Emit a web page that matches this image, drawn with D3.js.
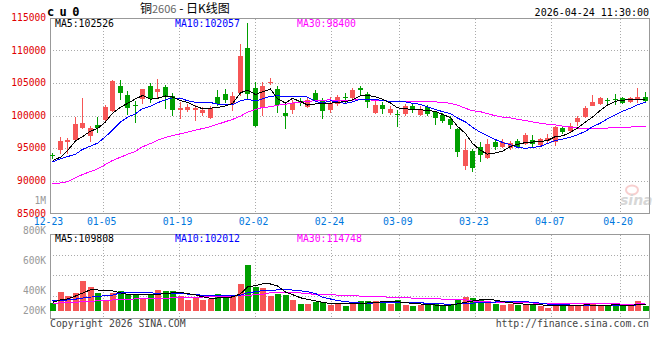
<!DOCTYPE html>
<html>
<head>
<meta charset="utf-8">
<script src="https://cdn.jsdelivr.net/npm/d3@7"></script>
<style>
  body { margin: 0; background: #fff; }
  text { font-family: "DejaVu Sans Mono", "Liberation Mono", monospace; }
</style>
</head>
<body>
<script>
// daily candles of cu2606, 12-23 .. 04-24
const dates = ["12-23","12-24","12-25","12-26","12-29","12-30","12-31","01-05","01-06","01-07",
  "01-08","01-09","01-12","01-13","01-14","01-15","01-16","01-19","01-20","01-21",
  "01-22","01-23","01-26","01-27","01-28","01-29","01-30","02-02","02-03","02-04",
  "02-05","02-06","02-09","02-10","02-11","02-12","02-13","02-24","02-25","02-26",
  "02-27","03-02","03-03","03-04","03-05","03-06","03-09","03-10","03-11","03-12",
  "03-13","03-16","03-17","03-18","03-19","03-20","03-23","03-24","03-25","03-26",
  "03-27","03-30","03-31","04-01","04-02","04-03","04-07","04-08","04-09","04-10",
  "04-13","04-14","04-15","04-16","04-17","04-20","04-21","04-22","04-23","04-24"];

const open = [93900,94800,95950,96250,98100,96900,98500,99300,100750,104500,
  103100,101600,102450,104500,103650,104300,102950,100850,100850,100800,
  100450,99600,102900,103350,101800,103500,110300,104200,101350,104900,
  104050,100400,100850,102200,101400,103500,102350,100850,101800,102850,
  102650,104200,103300,100350,101600,100350,100250,100150,101500,100000,
  101250,100500,100100,99400,97900,92250,94550,95100,93500,96000,
  95150,95000,96150,95650,96250,95500,96150,96000,98050,97700,
  99000,99800,101500,101800,102400,102550,102700,102150,102400,102850];
const high = [94200,96650,96600,99700,102650,98400,99700,101550,105500,105500,
  103750,102150,104050,104950,105550,104700,103450,102000,101800,101650,
  101300,101400,103900,104050,103600,111000,114200,105200,105100,105800,
  104600,101850,102400,102700,102800,103900,102650,102800,103150,103400,
  104200,104550,103600,102200,102100,101400,100850,101800,101850,101450,
  101600,100750,100400,99850,98050,96400,94800,95950,96400,96450,
  96450,96050,96350,97350,97000,96600,97150,98400,98450,98800,
  99900,101400,103150,102900,102650,103300,102850,102850,104150,103600];
const low = [93300,94050,94100,96000,97900,95900,97300,99100,100600,102400,
  100100,98800,101700,101850,102700,101050,100000,99500,100500,99100,
  99900,99450,101500,101900,100700,103000,102500,98300,100000,104650,
  100450,97900,100300,101400,101150,102300,99500,100350,101400,101950,
  102350,103000,101200,100200,100200,100100,98300,100000,100450,99900,
  99850,98550,98800,97900,93650,91650,91400,92900,93400,94650,
  94950,94750,95000,95500,95100,95100,95800,95300,97150,97350,
  98400,99600,101400,101600,101550,101600,101700,101950,101950,102100];
const close = [93850,96150,96250,98700,98850,98100,98100,101350,105350,103400,
  101050,101550,104000,102500,104100,102800,100800,101150,101250,101150,
  100850,101200,101750,102400,103000,109100,103200,98400,104500,105100,
  101600,99950,101950,102100,102450,102400,100600,101850,102900,102750,
  103900,103900,102100,101600,101000,100950,100200,101450,100950,100950,
  100250,99550,99150,98450,94300,94700,92000,93800,95600,95200,
  95950,95800,95300,97000,95600,96350,96600,98300,97500,98400,
  99600,101200,102100,102750,102350,102500,102000,102750,102850,102300];

// volume, thousand lots
const volume = [124,235,196,225,343,284,225,154,222,245,
  215,206,173,215,255,245,245,196,157,186,
  157,167,215,196,196,313,500,284,274,196,
  215,206,157,118,118,137,137,106,118,96,
  135,145,145,145,128,122,155,112,96,103,
  103,122,96,112,161,184,174,161,135,122,
  112,122,112,112,112,96,79,128,106,96,
  96,118,118,96,96,125,96,96,148,96];

// moving-average values before enough candles are on screen
const ma5Head = [93100,93600,94600,96100];
const ma10Head = [92900,93350,93700,94050,94800,95300,95750,96750,97750];
const ma30Head = [89500,89650,89850,90450,90950,91400,91800,92500,93100,93600,
  94050,94500,95200,95700,96200,96650,96900,97200,97450,97750,
  98000,98300,98650,99050,99400,99900,100500,100900,101250];
const vma5Head = [134,157,167,196];
const vma10Head = [147,150,157,165,175,185,192,199,205];
const vma30Head = [125,128,131,135,139,143,149,153,157,160,
  164,167,169,171,173,175,177,179,181,183,
  186,188,190,193,196,199,203,208,213];

const priceTicks = [115000,110000,105000,100000,95000,90000,85000];
const dateTicks = ["12-23","01-05","01-19","02-02","02-24","03-09","03-23","04-07","04-20"];
const volTicks = [800,600,400,200];
const priceLegend = ["MA5:102526","MA10:102057","MA30:98400"];
const volLegend = ["MA5:109808","MA10:102012","MA30:114748"];
const maColors = ["#000000","#0000ff","#ff00ff"];

const RED = "#f65656", GREEN = "#009f00";

function movingAvg(vals, k, head) {
  return vals.map((v, i) => i < k - 1 ? head[i] : d3.mean(vals.slice(i - k + 1, i + 1)));
}

const svg = d3.select("body").append("svg")
  .attr("width", 660).attr("height", 360);

const x = d3.scaleBand().domain(dates).range([49, 649]);
const xg = d3.scalePoint().domain(dates).range([50, 650]);
const y = d3.scaleLinear().domain([85000, 115000]).range([213.3, 17.7]);
const yv = d3.scaleLinear().domain([0, 800]).range([316, 234.3]);
const yvLab = d3.scaleLinear().domain([400, 800]).range([291, 230.7]);

const L = 50, R = 649;
const mainTop = Math.round(y(115000)) + 0.5, mainBot = Math.round(y(85000)) + 0.5;
const volTop = 234.5, volBot = 318.5;

const left = d => Math.round(x(d) + x.bandwidth() / 2 - 2.5);
const mid = d => left(d) + 2.5;

// ---- header texts
svg.append("text").attr("x", 47).attr("y", 12).attr("dy", "0.35em")
  .attr("font-size", 12).attr("font-weight", "bold").attr("letter-spacing", 5.4)
  .text("cu0");

const title = svg.append("text").attr("x", 140).attr("y", 12.5)
  .attr("font-size", 12).style("font-family", "'Noto Sans CJK SC', sans-serif");
title.append("tspan").text("铜");
title.append("tspan").attr("fill", "#666").attr("font-size", 11).text("2606");
title.append("tspan").text(" - 日K线图");

svg.append("text").attr("x", 649).attr("y", 12).attr("dy", "0.35em")
  .attr("text-anchor", "end").attr("font-size", 10).text("2026-04-24 11:30:00");

// ---- grids
const grid = svg.append("g").attr("shape-rendering", "crispEdges")
  .attr("stroke", "#aaa").attr("stroke-dasharray", "1,2");

grid.selectAll(".hp").data(priceTicks.slice(1, -1)).enter().append("line")
  .attr("x1", L).attr("x2", R)
  .attr("y1", d => Math.round(y(d)) + 0.5).attr("y2", d => Math.round(y(d)) + 0.5);

grid.selectAll(".hv").data(volTicks.slice(1)).enter().append("line")
  .attr("x1", L).attr("x2", R)
  .attr("y1", d => Math.round(yv(d)) + 0.5).attr("y2", d => Math.round(yv(d)) + 0.5);

grid.selectAll(".vp").data(dateTicks.slice(1)).enter().append("line")
  .attr("x1", d => Math.round(xg(d)) + 0.5).attr("x2", d => Math.round(xg(d)) + 0.5)
  .attr("y1", mainTop).attr("y2", mainBot);

grid.selectAll(".vv").data(dateTicks.slice(1)).enter().append("line")
  .attr("x1", d => Math.round(xg(d)) + 0.5).attr("x2", d => Math.round(xg(d)) + 0.5)
  .attr("y1", volTop).attr("y2", volBot);

// frames
const frame = svg.append("g").attr("fill", "none").attr("stroke", "#999")
  .attr("shape-rendering", "crispEdges");
frame.append("rect").attr("x", L + 0.5).attr("y", mainTop).attr("width", R - L).attr("height", mainBot - mainTop);
frame.append("rect").attr("x", L + 0.5).attr("y", volTop).attr("width", R - L).attr("height", volBot - volTop);

// ---- axis labels
svg.append("g").selectAll("text").data(priceTicks).enter().append("text")
  .attr("x", 46).attr("y", d => y(d)).attr("dy", "0.35em")
  .attr("text-anchor", "end").attr("font-size", 9.6).attr("fill", "#e00000")
  .text(d => d);

svg.append("text").attr("x", 46).attr("y", 200.7).attr("dy", "0.35em")
  .attr("text-anchor", "end").attr("font-size", 9.6).attr("fill", "#999").text("1M");

svg.append("g").selectAll("text").data(volTicks).enter().append("text")
  .attr("x", 46).attr("y", d => Math.min(311, yvLab(d))).attr("dy", "0.35em")
  .attr("text-anchor", "end").attr("font-size", 9.6).attr("fill", "#999")
  .text(d => d + "K");

svg.append("g").selectAll("text").data(dateTicks).enter().append("text")
  .attr("x", d => xg(d) - 1.5).attr("y", 222).attr("dy", "0.35em")
  .attr("text-anchor", "middle").attr("font-size", 9.8).attr("fill", "#0077dd")
  .text(d => d);

// ---- watermark
const wm = svg.append("g").attr("opacity", 0.5);
wm.append("ellipse").attr("cx", 632).attr("cy", 190).attr("rx", 6).attr("ry", 4.5)
  .attr("fill", "none").attr("stroke", "#f3a0a0").attr("stroke-width", 2);
wm.append("text").attr("x", 620).attr("y", 205).attr("font-size", 14)
  .attr("font-style", "italic").attr("font-weight", "bold").attr("fill", "#b0b0b0")
  .style("font-family", "'DejaVu Sans', sans-serif").text("sina");

// ---- candles
const rows = dates.map((d, i) => ({ d, o: open[i], h: high[i], l: low[i], c: close[i], v: volume[i] }));
const colorOf = r => r.c >= r.o ? RED : GREEN;

const cg = svg.append("g").attr("shape-rendering", "crispEdges");
cg.selectAll("line").data(rows).enter().append("line")
  .attr("x1", r => mid(r.d)).attr("x2", r => mid(r.d))
  .attr("y1", r => Math.round(y(r.h))).attr("y2", r => Math.round(y(r.l)))
  .attr("stroke", colorOf);
cg.selectAll("rect").data(rows).enter().append("rect")
  .attr("x", r => left(r.d)).attr("width", 5)
  .attr("y", r => Math.round(y(Math.max(r.o, r.c))))
  .attr("height", r => Math.max(1, Math.round(Math.abs(y(r.o) - y(r.c)))))
  .attr("fill", colorOf);

// ---- volume bars
svg.append("g").attr("shape-rendering", "crispEdges")
  .selectAll("rect").data(rows).enter().append("rect")
  .attr("x", r => left(r.d)).attr("width", 6)
  .attr("y", r => Math.round(yv(r.v)))
  .attr("height", r => Math.round(yv(50)) - Math.round(yv(r.v)))
  .attr("fill", colorOf);

// ---- moving averages
const priceMA = [movingAvg(close, 5, ma5Head), movingAvg(close, 10, ma10Head), movingAvg(close, 30, ma30Head)];
const volMA = [movingAvg(volume, 5, vma5Head), movingAvg(volume, 10, vma10Head), movingAvg(volume, 30, vma30Head)];

const lineP = d3.line().x((v, i) => mid(dates[i])).y(v => y(v));
const lineV = d3.line().x((v, i) => mid(dates[i])).y(v => yv(v));

svg.append("g").attr("fill", "none").attr("shape-rendering", "crispEdges")
  .selectAll("path").data(priceMA.slice().reverse()).enter().append("path")
  .attr("d", lineP).attr("stroke", (d, i) => maColors.slice().reverse()[i]);

svg.append("g").attr("fill", "none").attr("shape-rendering", "crispEdges")
  .selectAll("path").data(volMA.slice().reverse()).enter().append("path")
  .attr("d", lineV).attr("stroke", (d, i) => maColors.slice().reverse()[i]);

// ---- legends
const legX = [55, 175, 297];
svg.append("g").selectAll("text").data(priceLegend).enter().append("text")
  .attr("x", (d, i) => legX[i]).attr("y", 24).attr("dy", "0.35em")
  .attr("font-size", 9.8).attr("fill", (d, i) => maColors[i]).text(d => d);
svg.append("g").selectAll("text").data(volLegend).enter().append("text")
  .attr("x", (d, i) => legX[i]).attr("y", 238.5).attr("dy", "0.35em")
  .attr("font-size", 9.8).attr("fill", (d, i) => maColors[i]).text(d => d);

// ---- footer
svg.append("text").attr("x", 50).attr("y", 324).attr("dy", "0.35em")
  .attr("font-size", 9.8).attr("fill", "#444").text("Copyright 2026 SINA.COM");
svg.append("text").attr("x", 649).attr("y", 324).attr("dy", "0.35em")
  .attr("text-anchor", "end").attr("font-size", 9.8).attr("fill", "#444")
  .text("http://finance.sina.com.cn");
</script>
</body>
</html>
